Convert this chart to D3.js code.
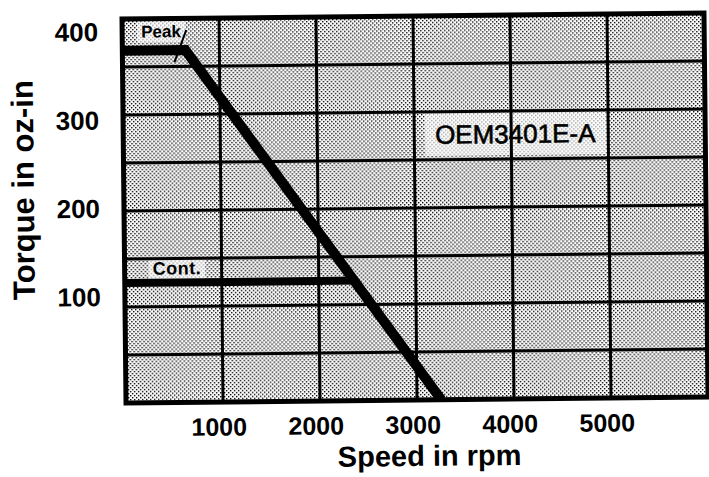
<!DOCTYPE html>
<html>
<head>
<meta charset="utf-8">
<script src="https://cdn.jsdelivr.net/npm/d3@7"></script>
<style>
  html, body { margin: 0; padding: 0; background: #fff; }
  svg { display: block; }
  text { font-family: "Liberation Sans", Arial, Helvetica, sans-serif; fill: #000; }
</style>
</head>
<body>
<svg id="chart" width="709" height="477"></svg>
<script>
// ---- data ----
const peakSpeed  = [0, 650, 3250];      // rpm
const peakTorque = [367, 367, 0];       // oz-in
const contSpeed  = [0, 2400];           // rpm
const contTorque = [125, 125];          // oz-in
const xTickValues = [1000, 2000, 3000, 4000, 5000];
const yTickValues = [100, 200, 300, 400];
const xGridStep = 1000;
const yGridStep = 50;
const xDomain = [0, 6000];
const yDomain = [0, 400];
const modelName = "OEM3401E-A";
const xTitle = "Speed in rpm";
const yTitle = "Torque in oz-in";
const peakLabel = "Peak";
const contLabel = "Cont.";

// ---- layout ----
const W = 709, H = 477;
const frame = { left: 124, right: 706, top: 16, bottom: 400 };

const svg = d3.select("#chart");
const defs = svg.append("defs");

// halftone dot pattern
const pat = defs.append("pattern")
  .attr("id", "dots").attr("patternUnits", "userSpaceOnUse")
  .attr("width", 4).attr("height", 4);
pat.append("rect").attr("width", 4).attr("height", 4).attr("fill", "#fff");
pat.append("rect").attr("x", 0).attr("y", 0).attr("width", 1.4).attr("height", 1.4).attr("fill", "#000");
pat.append("rect").attr("x", 2).attr("y", 2).attr("width", 1.4).attr("height", 1.4).attr("fill", "#000");

defs.append("clipPath").attr("id", "plotClip")
  .append("rect")
  .attr("x", frame.left).attr("y", frame.top)
  .attr("width", frame.right - frame.left).attr("height", frame.bottom - frame.top);

const x = d3.scaleLinear().domain(xDomain).range([frame.left, frame.right]);
const y = d3.scaleLinear().domain(yDomain).range([frame.bottom, frame.top]);

// the scanned original is slightly tilted
const cx = (frame.left + frame.right) / 2, cy = (frame.top + frame.bottom) / 2;
const root = svg.append("g").attr("transform", `rotate(-0.6, ${cx}, ${cy})`);

// plot background
root.append("rect")
  .attr("x", frame.left).attr("y", frame.top)
  .attr("width", frame.right - frame.left).attr("height", frame.bottom - frame.top)
  .attr("fill", "url(#dots)");

const plot = root.append("g").attr("clip-path", "url(#plotClip)");
const lightLayer = plot.append("g");
const gridLayer = plot.append("g");
const curveLayer = plot.append("g");
const textLayer = root.append("g");

// grid
gridLayer.selectAll("line.vx")
  .data(d3.range(xDomain[0] + xGridStep, xDomain[1], xGridStep))
  .join("line")
  .attr("x1", d => x(d)).attr("x2", d => x(d))
  .attr("y1", frame.top).attr("y2", frame.bottom)
  .attr("stroke", "#000").attr("stroke-width", 3);
gridLayer.selectAll("line.hy")
  .data(d3.range(yDomain[0] + yGridStep, yDomain[1], yGridStep))
  .join("line")
  .attr("y1", d => y(d)).attr("y2", d => y(d))
  .attr("x1", frame.left).attr("x2", frame.right)
  .attr("stroke", "#000").attr("stroke-width", 3);

// curves
const line = d3.line().x(d => x(d[0])).y(d => y(d[1]));
const peakPts = peakSpeed.map((s, i) => [s, peakTorque[i]]);
const contPts = contSpeed.map((s, i) => [s, contTorque[i]]);

// leader tick from "Peak" label to the curve
curveLayer.append("line")
  .attr("x1", x(peakSpeed[1]) + 1).attr("y1", y(peakTorque[1]) - 20)
  .attr("x2", x(peakSpeed[1]) - 11).attr("y2", y(peakTorque[1]) + 12)
  .attr("stroke", "#000").attr("stroke-width", 2);

curveLayer.append("path").datum(contPts)
  .attr("d", line).attr("fill", "none")
  .attr("stroke", "#000").attr("stroke-width", 8);
curveLayer.append("path").datum(peakPts)
  .attr("d", line).attr("fill", "none")
  .attr("stroke", "#000").attr("stroke-width", 10)
  .attr("stroke-linejoin", "miter");

// frame border
root.append("rect")
  .attr("x", frame.left).attr("y", frame.top)
  .attr("width", frame.right - frame.left).attr("height", frame.bottom - frame.top)
  .attr("fill", "none").attr("stroke", "#000").attr("stroke-width", 5);

// in-plot labels with lightened background
function label(txt, px, py, opts) {
  const t = textLayer.append("text")
    .attr("x", px).attr("y", py)
    .attr("text-anchor", opts.anchor || "start")
    .attr("font-size", opts.size)
    .attr("font-weight", opts.weight || "bold")
    .attr("letter-spacing", opts.ls || 0)
    .text(txt);
  if (opts.stroke) t.attr("stroke", "#000").attr("stroke-width", opts.stroke);
  const b = t.node().getBBox();
  lightLayer.append("rect")
    .attr("x", b.x - opts.padX).attr("y", b.y - opts.padY)
    .attr("width", b.width + 2 * opts.padX).attr("height", b.height + 2 * opts.padY)
    .attr("fill", "#fff").attr("opacity", 0.6);
  return t;
}
label(peakLabel, x(0) + 19, y(peakTorque[0]) - 13, { size: 17, padX: 4, padY: 1 });
label(contLabel, x(0) + 28, y(contTorque[0]) - 8, { size: 18, ls: 0.5, padX: 4, padY: 1 });
label(modelName, x(4000) + 4, y(250) - 16, { size: 26, weight: "normal", anchor: "middle", stroke: 0.6, padX: 10, padY: 6 });

// x tick labels
const xAxis = d3.axisBottom(x).tickValues(xTickValues).tickSize(0).tickFormat(d3.format("d"));
const gx = root.append("g").attr("transform", `translate(-4.5, ${frame.bottom})`).call(xAxis);
gx.select(".domain").remove();
gx.selectAll("text")
  .attr("y", 33.5).attr("dy", null)
  .attr("font-size", 25).attr("font-weight", "bold")
  .attr("font-family", "'Liberation Sans', Arial, sans-serif").attr("fill", "#000");

// y tick labels (the original paste-up sits slightly compressed vs. the grid)
const yLab = d3.scaleLinear().domain([yTickValues[0], yTickValues[yTickValues.length - 1]])
  .range([y(yTickValues[0]) - 10.5, y(yTickValues[yTickValues.length - 1]) + 12.5]);
const yAxis = d3.axisLeft(yLab).tickValues(yTickValues).tickSize(0).tickFormat(d3.format("d"));
const gy = root.append("g").attr("transform", `translate(100, 0)`).call(yAxis);
gy.select(".domain").remove();
gy.selectAll("text")
  .attr("x", 0).attr("dy", "0.34em")
  .attr("font-size", 26).attr("font-weight", "bold")
  .attr("font-family", "'Liberation Sans', Arial, sans-serif").attr("fill", "#000");

// axis titles
root.append("text")
  .attr("x", x(3000) + 12).attr("y", 466)
  .attr("text-anchor", "middle")
  .attr("font-size", 29).attr("font-weight", "bold")
  .text(xTitle);
root.append("text")
  .attr("transform", `translate(34, 186) rotate(-90)`)
  .attr("text-anchor", "middle")
  .attr("font-size", 31).attr("font-weight", "bold")
  .text(yTitle);
</script>
</body>
</html>
